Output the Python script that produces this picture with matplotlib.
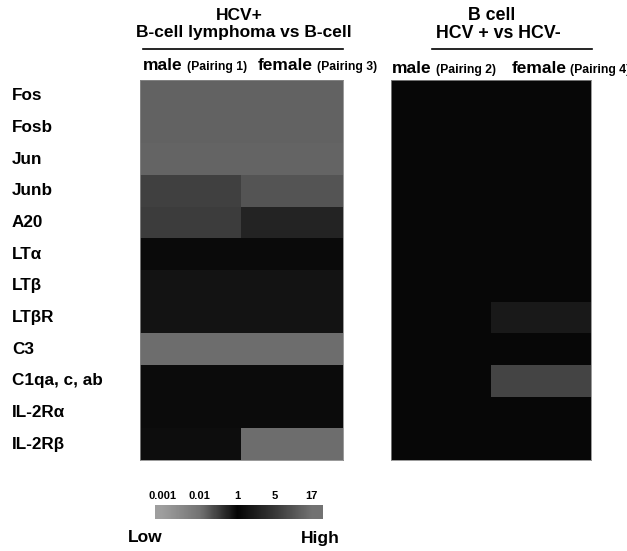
import numpy as np
import matplotlib
matplotlib.use("Agg")
import matplotlib.pyplot as plt
from matplotlib import colors, transforms

plt.rcParams['font.family'] = ['Liberation Sans', 'DejaVu Sans']
plt.rcParams['font.weight'] = 'bold'

# genes (rows)
genes = ['Fos', 'Fosb', 'Jun', 'Junb', 'A20', 'LTα', 'LTβ', 'LTβR',
         'C3', 'C1qa, c, ab', 'IL-2Rα', 'IL-2Rβ']

# fold change, HCV+ B-cell lymphoma vs B-cell
lymph_male = [12, 12, 12.5, 5.9, 5.5, 1.17, 1.6, 1.6, 15, 1.2, 1.2, 1.3]      # pairing 1
lymph_female = [12, 12, 12.5, 9, 2.6, 1.17, 1.6, 1.6, 15, 1.2, 1.2, 15]      # pairing 3

# fold change, B cell HCV+ vs HCV-
bcell_male = [1.1, 1.1, 1.1, 1.1, 1.1, 1.1, 1.1, 1.1, 1.1, 1.1, 1.1, 1.1]   # pairing 2
bcell_female = [1.1, 1.1, 1.1, 1.1, 1.1, 1.1, 1.1, 1.9, 1.1, 6.5, 1.1, 1.1]  # pairing 4

# colour scale
scale_vals = [0.001, 0.01, 1, 5, 17]
scale_labels = ['0.001', '0.01', '1', '5', '17']
scale_grays = [0.62, 0.45, 0.02, 0.22, 0.45]

log_vals = np.log10(scale_vals)
pos = np.arange(len(scale_vals))

cmap = colors.LinearSegmentedColormap.from_list(
    'vgray', [(p / pos[-1], (g, g, g)) for p, g in zip(pos, scale_grays)])
norm = colors.FuncNorm(
    (lambda v: np.interp(np.log10(v), log_vals, pos),
     lambda p: 10 ** np.interp(p, pos, log_vals)),
    vmin=scale_vals[0], vmax=scale_vals[-1])

fig = plt.figure(figsize=(6.27, 5.51), dpi=100)
W, H = 627, 551

def fax(x0, y0, x1, y1):
    return fig.add_axes([x0 / W, 1 - y1 / H, (x1 - x0) / W, (y1 - y0) / H])

ax1 = fax(140, 80, 343, 460)
ax2 = fax(391, 80, 591, 460)

for ax, m, f in [(ax1, lymph_male, lymph_female), (ax2, bcell_male, bcell_female)]:
    data = np.column_stack([m, f])
    ax.imshow(data, cmap=cmap, norm=norm, aspect='auto', interpolation='nearest',
              extent=[0, 2, len(genes), 0])
    ax.set_xticks([])
    ax.set_yticks([])
    for s in ax.spines.values():
        s.set_color('#888888')
        s.set_linewidth(0.6)

# row labels
tr = transforms.blended_transform_factory(fig.transFigure, ax1.transData)
for i, g in enumerate(genes):
    ax1.text(12 / W, i + 0.5, g, transform=tr, ha='left', va='center',
             fontsize=12.3, fontweight='bold')

def ftext(x, y, s, **kw):
    return fig.text(x / W, 1 - y / H, s, **kw)

# headers
ftext(239, 16, 'HCV+', ha='center', va='center', fontsize=12.5)
ftext(244, 33, 'B-cell lymphoma vs B-cell', ha='center', va='center', fontsize=12.5)
ftext(492, 16, 'B cell', ha='center', va='center', fontsize=12.8)
ftext(498, 33, 'HCV + vs HCV-', ha='center', va='center', fontsize=12.8)
fig.add_artist(plt.Line2D([143 / W, 343 / W], [1 - 49 / H] * 2, color='black', lw=1.2))
fig.add_artist(plt.Line2D([432 / W, 592 / W], [1 - 49 / H] * 2, color='black', lw=1.2))

def sublabel(x, y, word, pairing, gap=3):
    t = ftext(x, y, word, ha='left', va='baseline', fontsize=12.5)
    ax1.annotate(pairing, xy=(1, 0), xycoords=t, xytext=(gap, 0),
                 textcoords='offset points', ha='left', va='bottom',
                 fontsize=8.8, annotation_clip=False)

sublabel(143, 70, 'male', '(Pairing 1)')
sublabel(258, 70, 'female', '(Pairing 3)')
sublabel(392, 73, 'male', '(Pairing 2)')
sublabel(512, 73, 'female', '(Pairing 4)', gap=2)

# colour key
cax = fax(155, 505, 322, 519)
lo, hi = -0.19, 4.27
xs = np.linspace(lo, hi, 300)
cax.imshow(cmap(colors.Normalize(0, pos[-1])(xs))[None, :, :], aspect='auto',
           extent=[lo, hi, 0, 1])
cax.set_xlim(lo, hi)
cax.set_xticks(pos)
cax.set_xticklabels(scale_labels, fontsize=8, fontweight='bold')
cax.xaxis.tick_top()
cax.tick_params(axis='x', length=0, pad=3)
cax.set_yticks([])
for s in cax.spines.values():
    s.set_visible(False)

ftext(128, 538, 'Low', ha='left', va='center', fontsize=12.5)
ftext(340, 538, 'High', ha='right', va='center', fontsize=12.5)

fig.savefig('out.png', dpi=100)
